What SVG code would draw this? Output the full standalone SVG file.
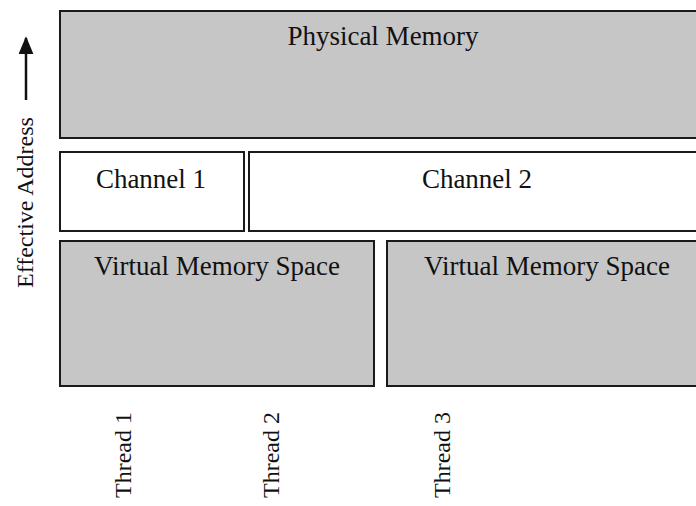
<svg xmlns="http://www.w3.org/2000/svg" width="696" height="506" viewBox="0 0 696 506">
<style>
.shade{fill:#c6c6c6;stroke:#1a1a1a;stroke-width:2}
.plain{fill:#ffffff;stroke:#1a1a1a;stroke-width:2}
text{font-family:"Liberation Serif","Times New Roman",serif;fill:#111}
.lbl{font-size:27px;text-anchor:middle}
.side{font-size:24px}
</style>
<defs>
<marker id="ah" viewBox="0 0 10 12" refX="9" refY="6" markerWidth="18" markerHeight="15" markerUnits="userSpaceOnUse" orient="auto" preserveAspectRatio="none">
<path d="M0,0 L10,6 L0,12 z" fill="#111"/>
</marker>
</defs>
<rect width="696" height="506" fill="#ffffff"/>
<g id="physical">
<rect class="shade" x="60" y="11" width="650" height="127"/>
<text class="lbl" x="383" y="45">Physical Memory</text>
</g>
<g id="channel1">
<rect class="plain" x="60" y="152" width="184" height="79"/>
<text class="lbl" x="151" y="188">Channel 1</text>
</g>
<g id="channel2">
<rect class="plain" x="249" y="152" width="460" height="79"/>
<text class="lbl" x="477" y="188">Channel 2</text>
</g>
<g id="virtual1">
<rect class="shade" x="60" y="241" width="314" height="145"/>
<text class="lbl" x="217" y="275">Virtual Memory Space</text>
</g>
<g id="virtual2">
<rect class="shade" x="387" y="241" width="320" height="145"/>
<text class="lbl" x="547" y="275">Virtual Memory Space</text>
</g>
<g id="axis">
<text class="side" transform="translate(33,288) rotate(-90)">Effective Address</text>
</g>
<g id="connectors">
<line x1="26" y1="100" x2="26" y2="38" stroke="#111" stroke-width="2.5" marker-end="url(#ah)"/>
</g>
<g id="thread1"><text class="side" transform="translate(131,498) rotate(-90)">Thread 1</text></g>
<g id="thread2"><text class="side" transform="translate(279,498) rotate(-90)">Thread 2</text></g>
<g id="thread3"><text class="side" transform="translate(450,498) rotate(-90)">Thread 3</text></g>
</svg>
